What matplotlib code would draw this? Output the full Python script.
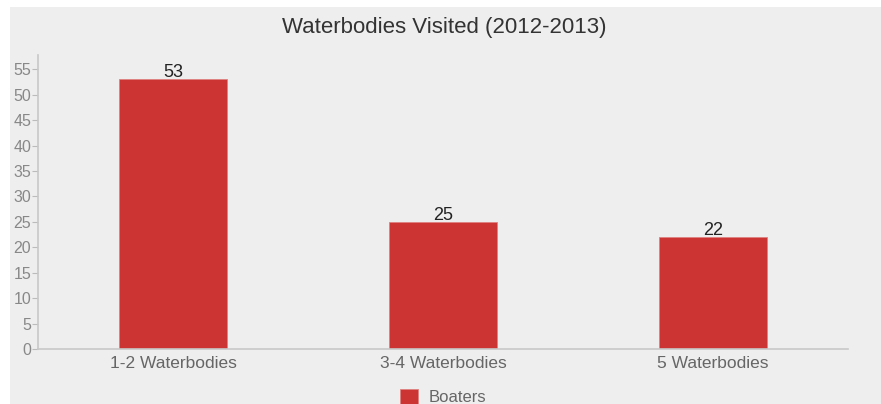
import matplotlib.pyplot as plt
from matplotlib.patches import Rectangle

plt.rcParams['font.family'] = ['Liberation Sans', 'DejaVu Sans']

categories = ['1-2 Waterbodies', '3-4 Waterbodies', '5 Waterbodies']
boaters = [53, 25, 22]
yticks = list(range(0, 60, 5))

fig = plt.figure(figsize=(8.81, 4.04), dpi=100)
fig.patch.set_facecolor('white')
# grey panel behind the chart
panel = Rectangle((10 / 881, 0), 1, 397 / 404, transform=fig.transFigure,
                  facecolor='#eeeeee', edgecolor='none', zorder=-10)
fig.add_artist(panel)

ax = fig.add_axes([38 / 881, 55 / 404, 810 / 881, 294 / 404])
ax.set_facecolor('none')
ax.set_zorder(5)

x = [i + 0.5 for i in range(len(categories))]
ax.bar(x, boaters, width=0.4, color='#cc3333', edgecolor='#e08080', linewidth=0.6,
       label='Boaters')
for xi, v in zip(x, boaters):
    ax.text(xi, v - 0.4, str(v), ha='center', va='bottom', fontsize=13, color='#222222')

ax.set_xlim(0, 3)
ax.set_ylim(0, 57.8)
ax.set_xticks(x)
ax.set_xticklabels(categories)
ax.set_yticks(yticks)
ax.tick_params(axis='x', length=0, pad=5, labelsize=12.5, labelcolor='#666666')
ax.tick_params(axis='y', length=4, width=0.8, color='#bbbbbb', pad=1, labelsize=11.5,
               labelcolor='#888888')
for s in ['top', 'right']:
    ax.spines[s].set_visible(False)
for s in ['left', 'bottom']:
    ax.spines[s].set_color('#c8c8c8')
    ax.spines[s].set_linewidth(1.2)

fig.text(444 / 881, 1 - 27 / 404, 'Waterbodies Visited (2012-2013)', ha='center', va='center',
         fontsize=16, color='#333333')

leg = ax.legend(loc='upper center', bbox_to_anchor=(0.5, -0.135), frameon=False, fontsize=12,
                handlelength=1.1, handleheight=1.1, handletextpad=0.6,
                borderpad=0, borderaxespad=0)
for t in leg.get_texts():
    t.set_color('#666666')

fig.savefig('out.png', dpi=100, facecolor=fig.get_facecolor())
